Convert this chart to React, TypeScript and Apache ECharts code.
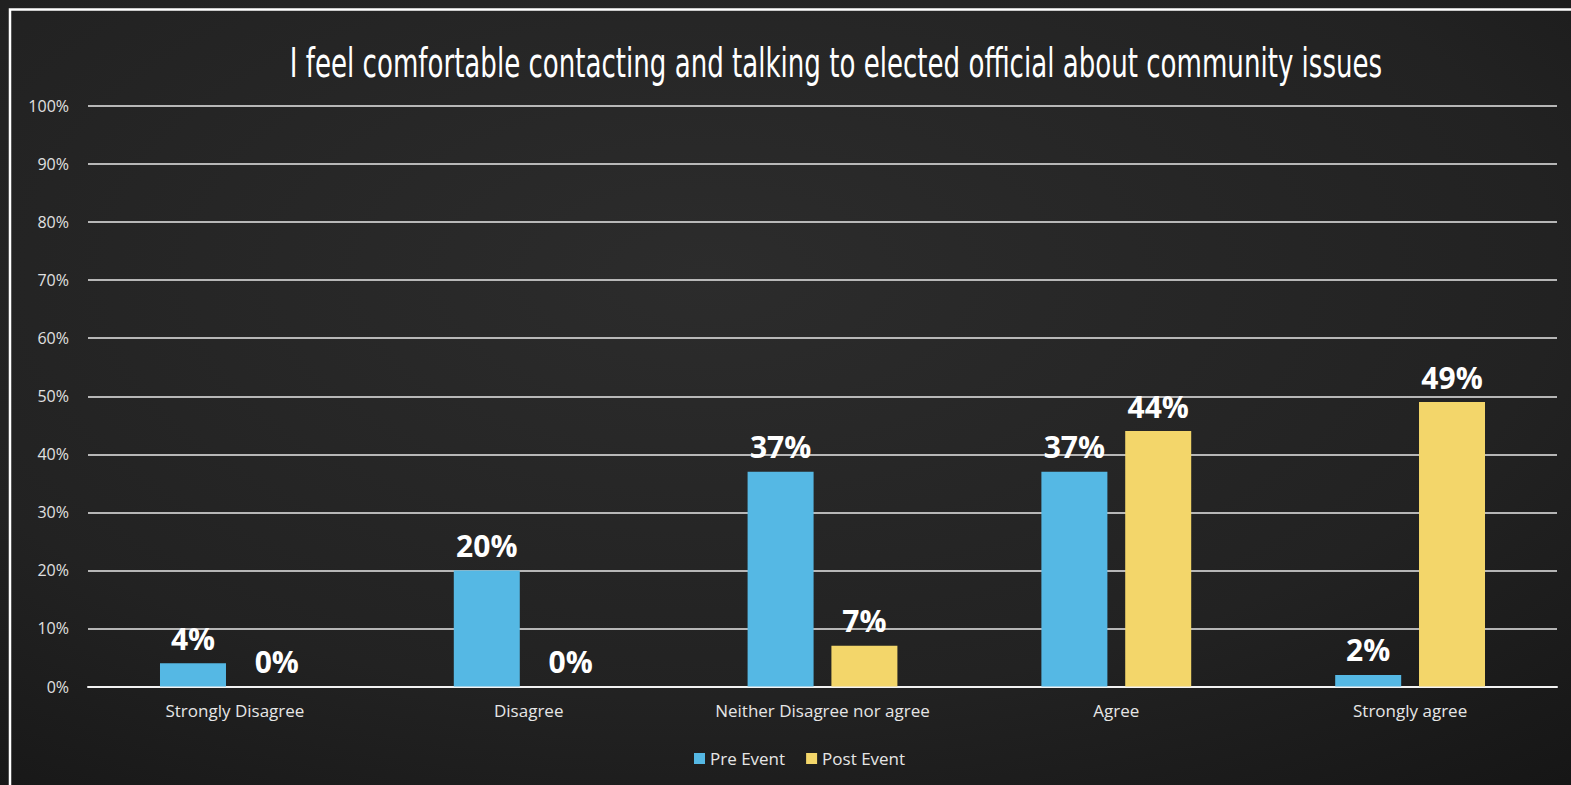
import React, { useEffect, useRef } from "react";
import * as echarts from "echarts";

// Survey response categories and the share of respondents for each
const categories = [
  "Strongly Disagree",
  "Disagree",
  "Neither Disagree nor agree",
  "Agree",
  "Strongly agree",
];
const preEvent = [4, 20, 37, 37, 2];
const postEvent = [0, 0, 7, 44, 49];
const yTicks = [0, 10, 20, 30, 40, 50, 60, 70, 80, 90, 100];

const titleText =
  "I feel comfortable contacting and talking to elected official about community issues";

const BLUE = "#55b8e4";
const YELLOW = "#f3d66a";
const LABEL_FONT = '"Open Sans", "Lato", sans-serif';

export default function App() {
  const ref = useRef<HTMLDivElement>(null);

  useEffect(() => {
    if (!ref.current) return;
    const chart = echarts.init(ref.current, null, { renderer: "svg" });

    const valueLabel = {
      show: true,
      position: "top" as const,
      distance: 10,
      color: "#ffffff",
      fontFamily: LABEL_FONT,
      fontWeight: "bold" as const,
      fontSize: 30,
      formatter: "{c}%",
    };

    chart.setOption({
      animation: false,
      backgroundColor: {
        type: "radial",
        x: 0.45,
        y: 0.35,
        r: 0.9,
        colorStops: [
          { offset: 0, color: "#2c2c2c" },
          { offset: 0.6, color: "#222222" },
          { offset: 1, color: "#141414" },
        ],
      },
      graphic: [
        {
          type: "rect",
          silent: true,
          shape: { x: 10, y: 9.5, width: 1700, height: 900 },
          style: { fill: "none", stroke: "#ffffff", lineWidth: 2.5 },
        },
        {
          type: "text",
          x: 836,
          y: 63,
          scaleX: 0.725,
          style: {
            text: titleText,
            fill: "#ffffff",
            font: '40px "Liberation Sans Narrow", "DejaVu Sans Condensed", sans-serif',
            textAlign: "center",
            textVerticalAlign: "middle",
          },
        },
      ],
      legend: {
        left: 689,
        top: 745,
        itemWidth: 11,
        itemHeight: 11,
        itemGap: 21,
        icon: "rect",
        textStyle: { color: "#e6e6e6", fontFamily: LABEL_FONT, fontSize: 17 },
        data: ["Pre Event", "Post Event"],
      },
      grid: { left: 88, right: 14, top: 106, bottom: 98.5, containLabel: false },
      xAxis: {
        type: "category",
        data: categories,
        axisLine: { lineStyle: { color: "#f2f2f2", width: 2 } },
        axisTick: { show: false },
        axisLabel: {
          color: "#e6e6e6",
          fontFamily: LABEL_FONT,
          fontSize: 17,
          margin: 15,
        },
      },
      yAxis: {
        type: "value",
        min: yTicks[0],
        max: yTicks[yTicks.length - 1],
        interval: 10,
        axisLine: { show: false },
        axisTick: { show: false },
        splitLine: { lineStyle: { color: "#e8e8e8", width: 1.5 } },
        axisLabel: {
          color: "#e0e0e0",
          fontFamily: LABEL_FONT,
          fontSize: 16,
          margin: 19,
          formatter: "{value}%",
        },
      },
      series: [
        {
          name: "Pre Event",
          type: "bar",
          data: preEvent,
          barWidth: 66,
          barGap: "27%",
          itemStyle: { color: BLUE },
          label: valueLabel,
        },
        {
          name: "Post Event",
          type: "bar",
          data: postEvent,
          barWidth: 66,
          itemStyle: { color: YELLOW },
          label: valueLabel,
        },
      ],
    });

    return () => chart.dispose();
  }, []);

  return (
    <div
      ref={ref}
      style={{ position: "absolute", left: 0, top: 0, width: 1571, height: 785 }}
    />
  );
}
